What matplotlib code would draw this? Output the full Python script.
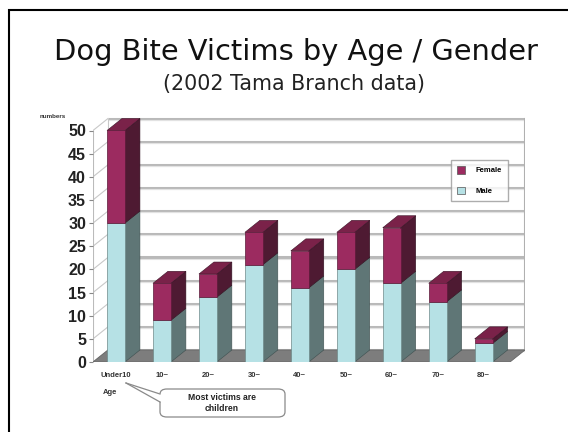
import matplotlib
matplotlib.use("Agg")
import matplotlib.pyplot as plt
from matplotlib.patches import Polygon, Rectangle, FancyBboxPatch, Patch

# ---- data ----
categories = ["Under10", "10~", "20~", "30~", "40~", "50~", "60~", "70~", "80~"]
male = [30, 9, 14, 21, 16, 20, 17, 13, 4]
female = [20, 8, 5, 7, 8, 8, 12, 4, 1]
yticks = list(range(0, 55, 5))
title = "Dog Bite Victims by Age / Gender"
subtitle = "(2002 Tama Branch data)"

# ---- style ----
W, H = 568, 432
FONT = "Liberation Sans"
TFONT = "DejaVu Sans"
fem_front, fem_side, fem_top = "#9c2b60", "#4e1a32", "#7a2249"
male_front, male_side, male_top = "#b6e1e5", "#5f7676", "#8fb8bb"
floor_col = "#7d7d7d"
grid_col = "#b9b9b9"

fig = plt.figure(figsize=(W / 100, H / 100), dpi=100)
fig.patch.set_facecolor("white")

def fx(px):
    return px / W

def fy(py):
    return 1 - py / H

# frame border
fig.patches.append(Rectangle((fx(9), fy(432 + 20)), 1, fy(10) - fy(452),
                             transform=fig.transFigure, fill=False,
                             edgecolor="black", lw=1.5, zorder=0))

# axes: 46 px per category, 4.63 px per unit
ax_left, ax_w = 93, 432
y0_px, px_per_unit = 362, 4.63
ylim_top = 55
ax_h = ylim_top * px_per_unit
ax = fig.add_axes([fx(ax_left), fy(y0_px), ax_w / W, ax_h / H])
ax.set_xlim(-0.5, 8.9)
ax.set_ylim(0, ylim_top)
ax.patch.set_alpha(0)

dx = 15 / 46.0
dy = 12 / px_per_unit
w = 0.39
xl, xr = -0.5, 8.9
n = len(categories)
x = list(range(n))

# back wall gridlines
for v in yticks:
    ax.plot([xl + dx, xr], [v + dy, v + dy], color=grid_col, lw=2.2, zorder=1,
            solid_capstyle="butt")
    ax.plot([xl + dx, xr], [v + dy - 0.25, v + dy - 0.25], color="#e2e2e2", lw=0.8, zorder=1)
    # left wall diagonals
    ax.plot([xl, xl + dx], [v, v + dy], color="#c8c8c8", lw=0.8, zorder=1)
# wall edges
ax.plot([xl + dx, xl + dx], [dy, 50 + dy], color="#c8c8c8", lw=0.8, zorder=1)
ax.plot([xr, xr], [dy, 50 + dy], color="#b0b0b0", lw=1.5, zorder=1)
ax.plot([xl, xl], [0, 50], color="#bbbbbb", lw=0.8, zorder=1)

# floor
ax.add_patch(Polygon([(xl, 0), (xr - dx, 0), (xr, dy), (xl + dx, dy)],
                     closed=True, facecolor=floor_col, edgecolor="#666666",
                     lw=0.6, zorder=2))

# bars (front faces)
bm = ax.bar(x, male, width=w, color=male_front, edgecolor="#6f8a8a", lw=0.5, zorder=4)
bf = ax.bar(x, female, width=w, bottom=male, color=fem_front, edgecolor="#5a1a38",
            lw=0.5, zorder=4)

# 3D side and top faces
for i in range(n):
    xc = x[i]
    r = xc + w / 2
    lft = xc - w / 2
    m = male[i]
    t = male[i] + female[i]
    ax.add_patch(Polygon([(r, 0), (r + dx, dy), (r + dx, m + dy), (r, m)],
                         closed=True, facecolor=male_side, edgecolor="#3f5050",
                         lw=0.4, zorder=3))
    ax.add_patch(Polygon([(r, m), (r + dx, m + dy), (r + dx, t + dy), (r, t)],
                         closed=True, facecolor=fem_side, edgecolor="#2e0f1e",
                         lw=0.4, zorder=3))
    ax.add_patch(Polygon([(lft, t), (r, t), (r + dx, t + dy), (lft + dx, t + dy)],
                         closed=True, facecolor=fem_top, edgecolor="#3a1226",
                         lw=0.4, zorder=3))

# axes styling
for s in ["top", "right", "bottom", "left"]:
    ax.spines[s].set_visible(False)
ax.set_yticks(yticks)
ax.set_yticklabels([str(v) for v in yticks], fontsize=11.5, fontweight="bold",
                   family=FONT, color="#222222")
ax.tick_params(axis="y", length=3, width=0.8, color="#888888", pad=2)
ax.set_xticks(x)
ax.set_xticklabels(categories, fontsize=5.5, family=FONT, fontweight="bold",
                   color="#333333")
ax.tick_params(axis="x", length=0, pad=7)

# legend
leg = fig.legend(handles=[Patch(facecolor=fem_front, edgecolor="#555555", lw=0.5),
                          Patch(facecolor=male_front, edgecolor="#555555", lw=0.5)],
                 labels=["Female", "Male"], loc="upper left",
                 bbox_to_anchor=(fx(447), fy(156)),
                 prop={"family": FONT, "size": 5.5, "weight": "bold"},
                 frameon=True, fancybox=False, edgecolor="#999999",
                 handlelength=1.0, handleheight=1.2, labelspacing=1.6,
                 borderpad=0.8, handletextpad=1.4)
leg.get_frame().set_linewidth(1.0)

# titles
fig.text(fx(296.5), fy(60), title, ha="center", va="baseline", fontsize=20.8,
         family=TFONT, color="#111111")
fig.text(fx(294), fy(90), subtitle, ha="center", va="baseline", fontsize=14.9,
         family=TFONT, color="#222222")

# small texts
fig.text(fx(40), fy(116), "numbers", ha="left", va="center", fontsize=4.5,
         family=FONT, fontweight="bold", color="#333333")
fig.text(fx(103), fy(393), "Age", ha="left", va="center", fontsize=5.5,
         family=FONT, fontweight="bold", color="#333333")

# callout
fig.patches.append(FancyBboxPatch((fx(160), fy(417)), fx(285) - fx(160), fy(389) - fy(417),
                                  boxstyle="round,pad=0,rounding_size=0.012",
                                  transform=fig.transFigure, facecolor="white",
                                  edgecolor="#8a8a8a", lw=0.9, zorder=5))
fig.patches.append(Polygon([(fx(126), fy(383)), (fx(161), fy(394)), (fx(161), fy(402))],
                           closed=True, transform=fig.transFigure, facecolor="white",
                           edgecolor="none", zorder=6))
fig.lines.append(plt.Line2D([fx(126), fx(160)], [fy(383), fy(394)],
                            transform=fig.transFigure, color="#8a8a8a", lw=0.9, zorder=7))
fig.lines.append(plt.Line2D([fx(126), fx(160)], [fy(383), fy(402)],
                            transform=fig.transFigure, color="#8a8a8a", lw=0.9, zorder=7))
fig.text(fx(222), fy(403), "Most victims are\nchildren", ha="center", va="center",
         fontsize=6.2, family=FONT, fontweight="bold", color="#222222",
         linespacing=1.3, zorder=8)

fig.savefig("out.png", dpi=100)
